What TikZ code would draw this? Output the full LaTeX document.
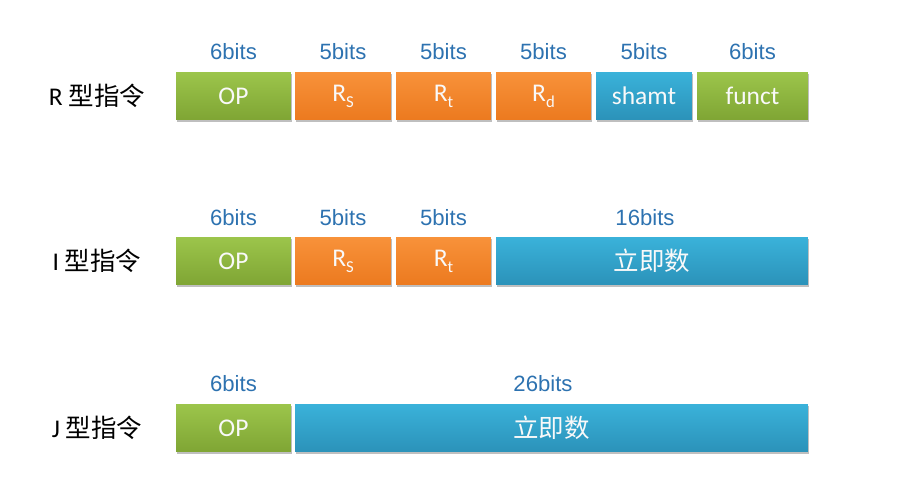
\documentclass[tikz,border=0pt]{standalone}
\usepackage{fontspec}
\setmainfont{Carlito}
\newfontfamily\cjk{Noto Sans CJK SC}
\newfontfamily\bitsfont{Liberation Sans}
\usetikzlibrary{shadows}
\definecolor{gtop}{HTML}{9CC54B}
\definecolor{gbot}{HTML}{7FA534}
\definecolor{otop}{HTML}{F8923A}
\definecolor{obot}{HTML}{EC7A1F}
\definecolor{btop}{HTML}{3AB2DA}
\definecolor{bbot}{HTML}{2B92B9}
\definecolor{bitblue}{HTML}{2D72B0}
\newcommand{\sub}[1]{\raisebox{-0.5ex}{\fontsize{9.5}{10}\selectfont #1}}
\tikzset{
  field/.style={minimum height=0.96cm, inner sep=0pt, text=white!95!gray,
    font=\fontsize{14.5}{16}\selectfont,
    drop shadow={shadow xshift=0.8pt, shadow yshift=-1pt, opacity=0.25, fill=black}},
  grn/.style={field, top color=gtop, bottom color=gbot},
  org/.style={field, top color=otop, bottom color=obot},
  blu/.style={field, top color=btop, bottom color=bbot},
  bits/.style={text=bitblue, font=\bitsfont\fontsize{12.6}{15}\selectfont, inner sep=0pt},
  rowname/.style={font=\fontsize{14.5}{17}\selectfont, inner sep=0pt}
}
\begin{document}
\begin{tikzpicture}[x=0.02cm, y=-0.02cm]
		%%%%% START %%%%%
		\useasboundingbox (0, 0) rectangle (906, 500);
		
		% R type
		\node[rowname] (rname) at (97, 96) {R {\cjk 型指令}};
		\node[grn, minimum width=2.30cm] (rop) at (233.5, 96) {OP};
		\node[org, minimum width=1.92cm] (rrs) at (343, 96) {R\sub{S}};
		\node[org, minimum width=1.90cm] (rrt) at (443.5, 96) {R\sub{t}};
		\node[org, minimum width=1.90cm] (rrd) at (543.5, 96) {R\sub{d}};
		\node[blu, minimum width=1.92cm] (rsh) at (644, 96) {shamt};
		\node[grn, minimum width=2.22cm] (rfn) at (752.5, 96) {funct};
		\node[bits] (ropb) at (233.5, 52) {6bits};
		\node[bits] (rrsb) at (343, 52) {5bits};
		\node[bits] (rrtb) at (443.5, 52) {5bits};
		\node[bits] (rrdb) at (543.5, 52) {5bits};
		\node[bits] (rshb) at (644, 52) {5bits};
		\node[bits] (rfnb) at (752.5, 52) {6bits};
		
		% I type
		\node[rowname] (iname) at (97, 261) {I {\cjk 型指令}};
		\node[grn, minimum width=2.30cm] (iop) at (233.5, 261) {OP};
		\node[org, minimum width=1.92cm] (irs) at (343, 261) {R\sub{S}};
		\node[org, minimum width=1.90cm] (irt) at (443.5, 261) {R\sub{t}};
		\node[blu, minimum width=6.24cm, font=\cjk\fontsize{14.5}{16}\selectfont] (iim) at (652, 261) {立即数};
		\node[bits] (iopb) at (233.5, 218) {6bits};
		\node[bits] (irsb) at (343, 218) {5bits};
		\node[bits] (irtb) at (443.5, 218) {5bits};
		\node[bits] (iimb) at (645, 218) {16bits};
		
		% J type
		\node[rowname] (jname) at (97, 428) {J {\cjk 型指令}};
		\node[grn, minimum width=2.30cm] (jop) at (233.5, 428) {OP};
		\node[blu, minimum width=10.26cm, font=\cjk\fontsize{14.5}{16}\selectfont] (jim) at (551.5, 428) {立即数};
		\node[bits] (jopb) at (233.5, 384) {6bits};
		\node[bits] (jimb) at (543, 384) {26bits};
		
		%%%%% END %%%%%
	\end{tikzpicture}
\end{document}
